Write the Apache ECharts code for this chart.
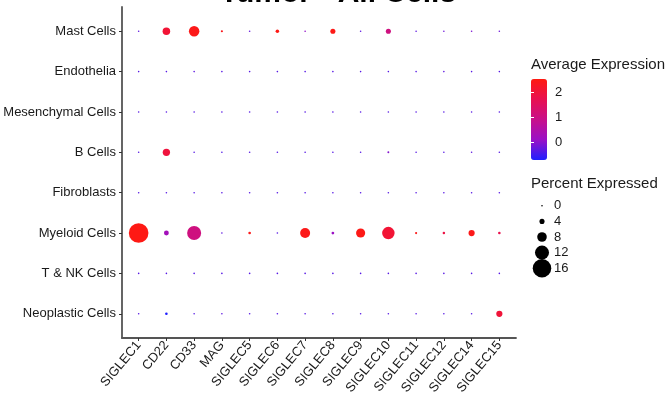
<!DOCTYPE html>
<html>
<head>
<meta charset="utf-8">
<script src="https://cdn.jsdelivr.net/npm/echarts@6/dist/echarts.min.js"></script>
<style>
  html, body { margin: 0; padding: 0; background: #fff; }
  #chart { width: 666px; height: 398px; }
</style>
</head>
<body>
<div id="chart"></div>
<script>
// Dot plot of SIGLEC family genes across tumour cell types
const genes = ['SIGLEC1', 'CD22', 'CD33', 'MAG', 'SIGLEC5', 'SIGLEC6', 'SIGLEC7',
  'SIGLEC8', 'SIGLEC9', 'SIGLEC10', 'SIGLEC11', 'SIGLEC12', 'SIGLEC14', 'SIGLEC15'];

// top to bottom
const cellTypes = ['Mast Cells', 'Endothelia', 'Mesenchymal Cells', 'B Cells',
  'Fibroblasts', 'Myeloid Cells', 'T & NK Cells', 'Neoplastic Cells'];

// scaled average expression, one row per cell type (same order as cellTypes)
const avgExpression = [
  [-0.30, 2.05, 2.40, 2.35, -0.25, 2.47, 0.05, 2.45, -0.30, 1.05, -0.30, -0.20, -0.10, -0.20],
  [-0.35, -0.35, -0.30, -0.35, -0.35, -0.35, -0.35, -0.35, -0.35, -0.35, -0.35, -0.30, -0.35, -0.35],
  [-0.35, -0.35, -0.35, -0.35, -0.35, -0.35, -0.35, -0.35, -0.35, -0.35, -0.35, -0.35, -0.35, -0.35],
  [-0.35, 1.95, -0.35, -0.40, -0.35, -0.35, -0.35, -0.35, -0.35, -0.05, -0.35, -0.35, -0.30, -0.35],
  [-0.35, -0.35, -0.35, -0.35, -0.35, -0.35, -0.35, -0.35, -0.35, -0.35, -0.35, -0.35, -0.35, -0.35],
  [2.47, 0.25, 1.05, -0.30, 2.40, -0.35, 2.40, 0.10, 2.45, 2.05, 2.40, 1.85, 2.40, 1.75],
  [-0.35, -0.35, -0.35, -0.35, -0.35, -0.35, -0.35, -0.35, -0.35, -0.35, -0.35, -0.35, -0.35, -0.35],
  [-0.35, -0.72, -0.35, -0.30, -0.35, -0.35, -0.35, -0.35, -0.35, -0.35, -0.35, -0.35, -0.35, 2.00]
];

// percent of cells expressing, same layout
const pctExpressed = [
  [0.3, 6.2, 8.8, 1.4, 0.3, 2.6, 0.8, 4.0, 0.5, 4.0, 0.3, 0.3, 0.9, 0.5],
  [0.4, 0.5, 0.5, 0.4, 0.3, 0.4, 0.4, 0.3, 0.4, 0.5, 0.4, 0.4, 0.4, 0.5],
  [0.4, 0.4, 0.4, 0.4, 0.3, 0.3, 0.4, 0.3, 0.3, 0.4, 0.3, 0.3, 0.3, 0.4],
  [0.4, 6.0, 0.4, 0.3, 0.3, 0.3, 0.3, 0.3, 0.4, 1.2, 0.3, 0.3, 0.5, 0.4],
  [0.3, 0.4, 0.4, 0.3, 0.3, 0.3, 0.3, 0.3, 0.3, 0.5, 0.3, 0.3, 0.3, 0.4],
  [17.0, 3.8, 12.0, 0.8, 1.8, 0.6, 8.4, 1.9, 7.6, 10.6, 1.4, 1.7, 5.0, 1.8],
  [0.3, 0.3, 0.3, 0.3, 0.3, 0.3, 0.3, 0.3, 0.3, 0.3, 0.3, 0.3, 0.3, 0.3],
  [0.4, 1.8, 0.4, 0.4, 0.3, 0.3, 0.4, 0.3, 0.3, 0.4, 0.3, 0.3, 0.5, 5.0]
];

// legend entries
const sizeLegendValues = [0, 4, 8, 12, 16];
const colorLegendTicks = [0, 1, 2];
const colorRange = [-0.72, 2.52];

const FONT = '"Liberation Sans", Arial, Helvetica, sans-serif';
const TEXT = '#1a1a1a';

function dotSize(pct) {
  return Math.max(1.6, 1.12 * pct + 0.6);
}

const nRows = cellTypes.length;
const dots = [];
cellTypes.forEach((ct, i) => {
  genes.forEach((g, j) => {
    dots.push([j, nRows - 1 - i, pctExpressed[i][j], avgExpression[i][j]]);
  });
});

const geneIdx = genes.map((_, j) => j);
const rowIdx = cellTypes.map((_, i) => i);

const chart = echarts.init(document.getElementById('chart'), null, { renderer: 'canvas' });

chart.setOption({
  backgroundColor: '#ffffff',
  animation: false,
  textStyle: { fontFamily: FONT },
  graphic: [
    {
      type: 'text', x: 338, y: -21,
      style: { text: 'Tumor - All Cells', align: 'center', verticalAlign: 'top',
        font: 'bold 30px ' + FONT, fill: '#000' }
    },
    {
      type: 'text', x: 531, y: 65,
      style: { text: 'Average Expression', align: 'left', verticalAlign: 'middle',
        font: '15px ' + FONT, fill: TEXT }
    },
    {
      type: 'text', x: 531, y: 184,
      style: { text: 'Percent Expressed', align: 'left', verticalAlign: 'middle',
        font: '15px ' + FONT, fill: TEXT }
    }
  ],
  grid: [
    { left: 122, top: 7, width: 394, height: 331 },
    { left: 534, top: 198, width: 16, height: 78 },
    { left: 531, top: 79, width: 16, height: 81 }
  ],
  xAxis: [
    {
      gridIndex: 0, type: 'value', min: -0.6, max: 13.6,
      axisLine: { show: true, onZero: false, lineStyle: { color: '#555', width: 1.8 } },
      axisTick: { show: true, length: 3, customValues: geneIdx, lineStyle: { color: '#333' } },
      axisLabel: {
        customValues: geneIdx, rotate: 50, margin: 5,
        formatter: v => genes[Math.round(v)] || '',
        color: TEXT, fontSize: 13, fontFamily: FONT
      },
      splitLine: { show: false }
    },
    { gridIndex: 1, type: 'value', min: -1, max: 1, show: false },
    { gridIndex: 2, type: 'value', min: 0, max: 1, show: false }
  ],
  yAxis: [
    {
      gridIndex: 0, type: 'value', min: -0.6, max: 7.6,
      axisLine: { show: true, onZero: false, lineStyle: { color: '#555', width: 1.8 } },
      axisTick: { show: true, length: 3, customValues: rowIdx, lineStyle: { color: '#333' } },
      axisLabel: {
        customValues: rowIdx, margin: 6,
        formatter: v => cellTypes[nRows - 1 - Math.round(v)] || '',
        color: TEXT, fontSize: 13, fontFamily: FONT
      },
      splitLine: { show: false }
    },
    {
      gridIndex: 1, type: 'category', inverse: true, position: 'right',
      data: sizeLegendValues.map(String),
      axisLine: { show: false }, axisTick: { show: false },
      axisLabel: { interval: 0, margin: 4, color: TEXT, fontSize: 13, fontFamily: FONT },
      splitLine: { show: false }
    },
    {
      gridIndex: 2, type: 'value', min: colorRange[0], max: colorRange[1], position: 'right', z: 10,
      axisLine: { show: false },
      axisTick: { show: true, inside: true, length: 3, customValues: colorLegendTicks,
        lineStyle: { color: '#fff', width: 1 } },
      axisLabel: { customValues: colorLegendTicks, margin: 8, color: TEXT, fontSize: 13, fontFamily: FONT },
      splitLine: { show: false }
    },
    {
      gridIndex: 2, type: 'value', min: colorRange[0], max: colorRange[1], position: 'left', z: 10,
      axisLine: { show: false },
      axisTick: { show: true, inside: true, length: 3, customValues: colorLegendTicks,
        lineStyle: { color: '#fff', width: 1 } },
      axisLabel: { show: false },
      splitLine: { show: false }
    }
  ],
  visualMap: {
    type: 'continuous',
    seriesIndex: 0,
    dimension: 3,
    min: colorRange[0], max: colorRange[1],
    left: 531, top: 79, padding: 0,
    itemWidth: 16, itemHeight: 81,
    calculable: false, hoverLink: false,
    text: null, showLabel: false,
    inRange: { color: ['#1f1fff', '#9a10c6', '#c8108a', '#e81050', '#ff1a10'] }
  },
  series: [
    {
      type: 'scatter', xAxisIndex: 0, yAxisIndex: 0,
      data: dots,
      symbolSize: d => dotSize(d[2]),
      itemStyle: { opacity: 1 },
      emphasis: { disabled: true }
    },
    {
      type: 'scatter', xAxisIndex: 1, yAxisIndex: 1,
      data: sizeLegendValues.map((v, k) => [0, k, v]),
      symbolSize: d => dotSize(d[2]),
      itemStyle: { color: '#000', opacity: 1 },
      emphasis: { disabled: true }
    }
  ]
});
</script>
</body>
</html>
